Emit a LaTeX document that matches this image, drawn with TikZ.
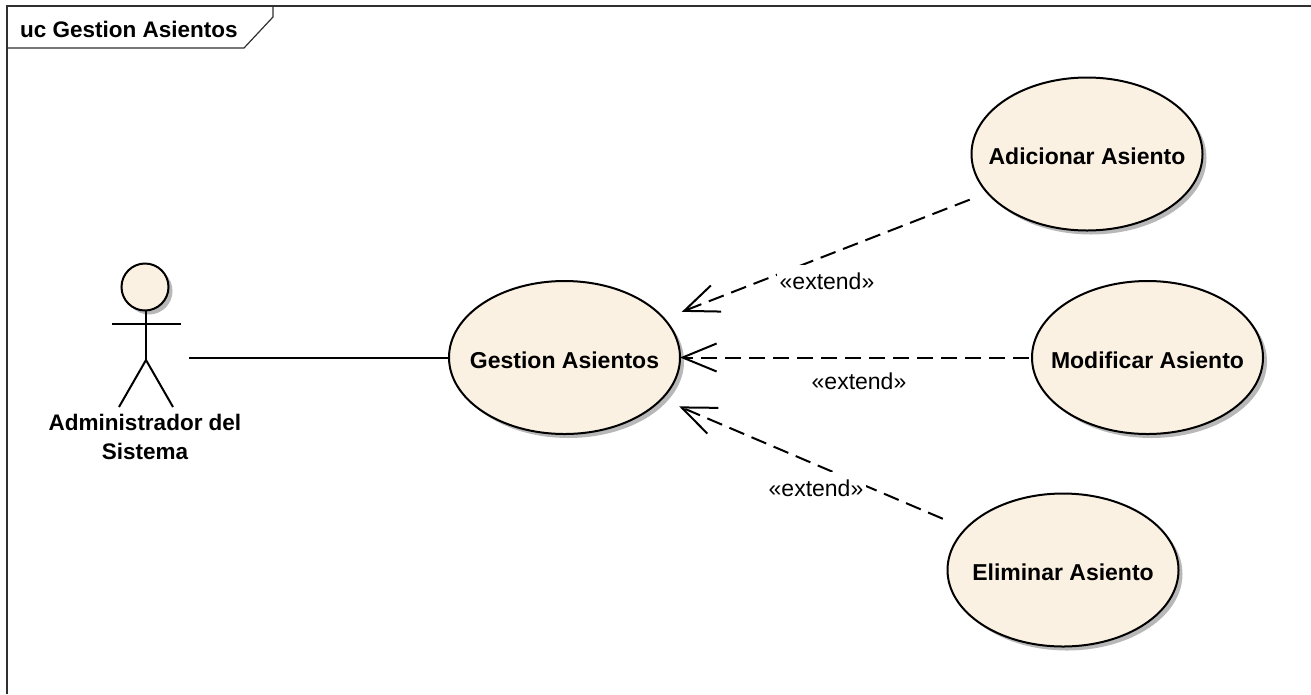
\documentclass[tikz,border=0pt]{standalone}
\usepackage{fontspec}
\setmainfont{Liberation Sans}
\usetikzlibrary{shapes.geometric, arrows.meta, shadows}
\definecolor{usefill}{HTML}{FAF1E3}
\definecolor{frameline}{HTML}{303030}
\tikzstyle{usecase} = [ellipse, minimum width=231pt, minimum height=153pt, inner xsep=-20pt, inner ysep=0pt, text height=21pt, text depth=0pt, line width=2pt, draw=black, fill=usefill, font=\fontsize{23}{27}\selectfont\bfseries, drop shadow={shadow xshift=4pt, shadow yshift=-4pt, fill=black!28, opacity=1}]
\tikzstyle{actorhead} = [circle, minimum size=47pt, inner sep=0pt, line width=2pt, draw=black, fill=usefill, drop shadow={shadow xshift=4pt, shadow yshift=-4pt, fill=black!28, opacity=1}]
\tikzstyle{actorname} = [align=center, inner sep=0pt, font=\fontsize{22.5}{29}\selectfont\bfseries]
\tikzstyle{stereo} = [fill=white, inner sep=0pt, minimum width=100pt, minimum height=32pt, font=\fontsize{23}{27}\selectfont]
\tikzstyle{limb} = [line width=2pt]
\tikzstyle{frameedge} = [line width=1.2pt, draw=frameline]
\tikzstyle{extendarrow} = [line width=2pt, dash pattern=on 16pt off 8pt, -{Straight Barb[length=34pt, width=28pt, line width=2pt]}, shorten >=18pt, shorten <=18pt]
\begin{document}
\begin{tikzpicture}[x=1pt, y=-1pt, node distance=100pt]
        \useasboundingbox (0,0) rectangle (1311,694);

        \draw [frameedge] (7,694) -- (7,6) -- (1311,6);
        \node (frametitle) [anchor=west, inner sep=0pt, font=\fontsize{22.5}{27}\selectfont\bfseries] at (20,29) {uc Gestion Asientos};
        \draw [frameedge] (7,48) -- (244,48) -- (273,17) -- (273,6);

        \node (gestion) [usecase] at (564.5,357.5) {Gestion Asientos};
        \node (adicionar) [usecase, right of=gestion, xshift=422.5pt, yshift=203.5pt] {Adicionar Asiento};
        \node (modificar) [usecase, right of=gestion, xshift=483pt] {Modificar Asiento};
        \node (eliminar) [usecase, right of=gestion, xshift=398.5pt, yshift=-212.5pt] {Eliminar Asiento};

        \node (head) [actorhead] at (145,287) {};
        \coordinate (hip) at (146,360);
        \coordinate (armleft) at (112,324);
        \coordinate (armright) at (181,324);
        \coordinate (footleft) at (119,407);
        \coordinate (footright) at (173,407);
        \coordinate (actorend) at (189,357.5);
        \draw [limb] (head) ++(1,23) -- (hip);
        \draw [limb] (armleft) -- (armright);
        \draw [limb] (footleft) -- (hip) -- (footright);
        \node (admin) [actorname] at (145,436.5) {Administrador del\\Sistema};

        \draw [limb] (actorend) -- (gestion);
        \draw [extendarrow] (adicionar) -- (gestion);
        \draw [extendarrow, shorten >=-1pt, shorten <=2pt] (modificar) -- (gestion);
        \draw [extendarrow, shorten <=24pt] (eliminar) -- (gestion);

        \node (labeladicionar) [stereo] at (827,281) {«extend»};
        \node (labelmodificar) [stereo] at (859,381) {«extend»};
        \node (labeleliminar) [stereo] at (816,488) {«extend»};
\end{tikzpicture}
\end{document}
